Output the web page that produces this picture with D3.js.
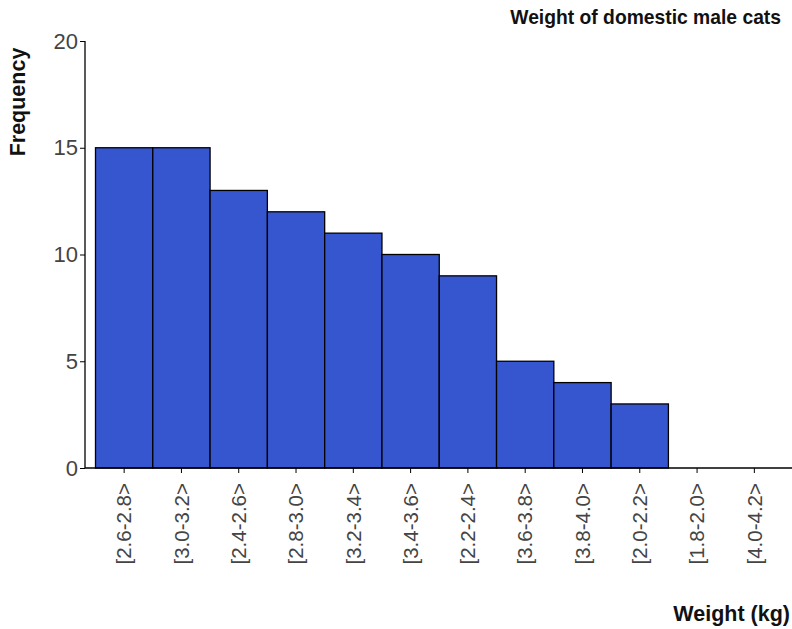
<!DOCTYPE html>
<html><head><meta charset="utf-8">
<script src="https://cdn.jsdelivr.net/npm/d3@7"></script>
<style>body{margin:0;background:#fff}svg{display:block}</style>
</head><body>
<script>
const categories = ["[2.6-2.8>","[3.0-3.2>","[2.4-2.6>","[2.8-3.0>","[3.2-3.4>","[3.4-3.6>","[2.2-2.4>","[3.6-3.8>","[3.8-4.0>","[2.0-2.2>","[1.8-2.0>","[4.0-4.2>"];
const frequencies = [15,15,13,12,11,10,9,5,4,3,0,0];
const yTicks = [0,5,10,15,20];

const W=792,H=629;
const FONT="Liberation Sans, Arial, sans-serif";
const svg=d3.select("body").append("svg").attr("width",W).attr("height",H);
const x=d3.scaleBand().domain(categories).range([95.5,783]).padding(0);
const y=d3.scaleLinear().domain([0,20]).range([468,41]);

svg.append("g").selectAll("rect").data(categories).join("rect")
  .attr("x",d=>x(d)).attr("width",x.bandwidth())
  .attr("y",(d,i)=>y(frequencies[i])).attr("height",(d,i)=>y(0)-y(frequencies[i]))
  .attr("fill","#3656d0").attr("stroke","#000").attr("stroke-width",1.3);

const yAxis=svg.append("g").attr("transform","translate(85,0)")
  .call(d3.axisLeft(y).tickValues(yTicks).tickSize(5).tickPadding(2).tickFormat(d3.format("d")));
yAxis.select(".domain").attr("d","M0,41V468").attr("stroke","#000").attr("stroke-width",1.3);
yAxis.selectAll("text").attr("font-family",FONT).attr("font-size",22).attr("fill","#444");

const xAxis=svg.append("g").attr("transform","translate(0,468)")
  .call(d3.axisBottom(x).tickSize(5).tickPadding(8));
xAxis.select(".domain").attr("d","M85,0H792").attr("stroke","#000").attr("stroke-width",1.3);
xAxis.selectAll("text").attr("font-family",FONT).attr("font-size",20.5).attr("fill","#444")
  .attr("transform","rotate(-90)").attr("text-anchor","end").attr("dy","0.35em").attr("x",-15).attr("y",0);

svg.append("text").attr("x",781).attr("y",24).attr("text-anchor","end")
  .attr("font-family",FONT).attr("font-weight","bold").attr("font-size",19.3).attr("fill","#111")
  .text("Weight of domestic male cats");
svg.append("text").attr("transform","translate(25,102) rotate(-90)").attr("text-anchor","middle")
  .attr("font-family",FONT).attr("font-weight","bold").attr("font-size",21.5).attr("fill","#111")
  .text("Frequency");
svg.append("text").attr("x",790).attr("y",621).attr("text-anchor","end")
  .attr("font-family",FONT).attr("font-weight","bold").attr("font-size",21.5).attr("fill","#111")
  .text("Weight (kg)");
</script>
</body></html>
